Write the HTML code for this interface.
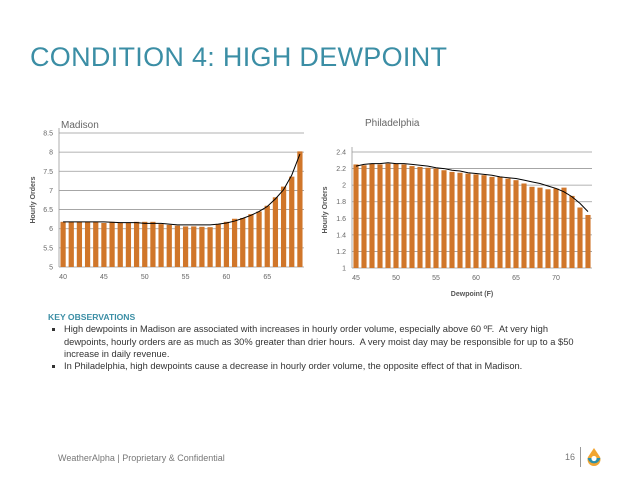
<!DOCTYPE html>
<html><head><meta charset="utf-8"><style>
body{margin:0;width:638px;height:479px;background:#fff;font-family:"Liberation Sans",sans-serif;position:relative;overflow:hidden}
#title{position:absolute;left:30px;top:42px;font-size:27px;color:#3b8ea5;letter-spacing:0.3px}
#obs{position:absolute;left:48px;top:311px;width:580px;font-size:9.3px;color:#333;line-height:12.3px}
#obs .h{color:#3b8ea5;font-weight:bold;font-size:8.6px}
#obs ul{margin:0;padding:0 0 0 16px;list-style:square}
#obs li{padding-left:0px;white-space:nowrap}
#foot{position:absolute;left:58px;top:453px;font-size:9px;color:#777}
#pg{position:absolute;left:565px;top:452px;font-size:9px;color:#777}
</style></head><body>
<div id="title">CONDITION 4: HIGH DEWPOINT</div>
<svg id="chart" width="638" height="479" style="position:absolute;left:0;top:0"></svg>
<div id="obs">
<div class="h">KEY OBSERVATIONS</div>
<ul>
<li>High dewpoints in Madison are associated with increases in hourly order volume, especially above 60 ºF.&nbsp; At very high<br>dewpoints, hourly orders are as much as 30% greater than drier hours.&nbsp; A very moist day may be responsible for up to a $50<br>increase in daily revenue.</li>
<li>In Philadelphia, high dewpoints cause a decrease in hourly order volume, the opposite effect of that in Madison.</li>
</ul></div>
<div id="foot">WeatherAlpha | Proprietary &amp; Confidential</div>
<div id="pg">16</div>
<div style="position:absolute;left:580px;top:447px;width:1px;height:20px;background:#999"></div>
<svg style="position:absolute;left:586px;top:448px" width="16" height="18"><path d="M8 0 L14 9 A6.5 6.5 0 1 1 2 9 Z" fill="#f2a531"/><path d="M1.6 10 A6.5 6.5 0 0 0 14.4 10 Z" fill="#2d8fa8"/><circle cx="8" cy="10.5" r="2.6" fill="#fff"/></svg>
<script>
const madCats=[40,41,42,43,44,45,46,47,48,49,50,51,52,53,54,55,56,57,58,59,60,61,62,63,64,65,66,67,68,69];
const madVals=[6.18,6.18,6.18,6.18,6.18,6.15,6.18,6.16,6.16,6.18,6.18,6.18,6.12,6.1,6.08,6.06,6.06,6.05,6.04,6.12,6.18,6.26,6.28,6.38,6.45,6.6,6.82,7.1,7.36,8.02];
const madTrend=[6.18,6.18,6.18,6.18,6.18,6.18,6.17,6.16,6.16,6.16,6.14,6.14,6.14,6.12,6.1,6.1,6.1,6.1,6.1,6.12,6.15,6.2,6.27,6.35,6.45,6.58,6.78,7.02,7.4,7.95];
const madTicks=[5,5.5,6,6.5,7,7.5,8,8.5];
const madXLabels=[40,45,50,55,60,65];
const phiCats=[45,46,47,48,49,50,51,52,53,54,55,56,57,58,59,60,61,62,63,64,65,66,67,68,69,70,71,72,73,74];
const phiVals=[2.25,2.24,2.26,2.25,2.26,2.26,2.25,2.23,2.22,2.21,2.2,2.18,2.16,2.15,2.14,2.13,2.12,2.1,2.1,2.08,2.06,2.02,1.98,1.97,1.95,1.96,1.97,1.87,1.73,1.64];
const phiTrend=[2.23,2.25,2.26,2.26,2.27,2.26,2.26,2.25,2.24,2.23,2.21,2.2,2.18,2.17,2.15,2.14,2.13,2.12,2.1,2.09,2.08,2.06,2.04,2.02,1.99,1.96,1.92,1.86,1.78,1.68];
const phiTicks=[1,1.2,1.4,1.6,1.8,2,2.2,2.4];
const phiXLabels=[45,50,55,60,65,70];
const NS="http://www.w3.org/2000/svg";
const svg=document.getElementById('chart');
function mk(t,a,txt){const e=document.createElementNS(NS,t);for(const k in a)e.setAttribute(k,a[k]);if(txt!==undefined)e.textContent=txt;svg.appendChild(e);return e;}
function draw(o){
  const n=o.cats.length,bw=(o.x1-o.x0)/n;
  const xs=i=>o.x0+bw*(i+0.5);
  const ys=v=>o.y1-(v-o.ymin)/(o.ymax-o.ymin)*(o.y1-o.y0);
  o.ticks.forEach(t=>{
    const g=mk('line',{x1:o.x0,x2:o.x1,y1:ys(t),y2:ys(t),stroke:'#999','stroke-width':0.8});
    
    const l=mk('text',{x:o.x0-6,y:ys(t)+2.5,'font-size':7,fill:'#666','text-anchor':'end'},String(t));
    
  });
  const ax=mk('line',{x1:o.x0,x2:o.x0,y1:o.y0-5,y2:o.y1,stroke:'#999','stroke-width':0.8});
  
  o.vals.forEach((v,i)=>{
    const b=mk('rect',{x:xs(i)-bw*0.32,y:ys(v),width:bw*0.64,height:o.y1-ys(v),fill:'#d0762a'});
    
  });
  o.xl.forEach(c=>{
    const i=o.cats.indexOf(c);
    const l=mk('text',{x:xs(i),y:o.y1+12,'font-size':7,fill:'#666','text-anchor':'middle'},String(c));
    
  });
  const p=mk('polyline',{points:o.trend.map((v,i)=>xs(i)+','+ys(v)).join(' '),fill:'none',stroke:'#000','stroke-width':1});
  
  const t=mk('text',{x:o.tx,y:o.ty,'font-size':10,fill:'#666'},o.title);
  
  const yt=mk('text',{transform:`translate(${o.ytx},${(o.y0+o.y1)/2}) rotate(-90)`,'font-size':7,fill:'#555','font-weight':'bold','text-anchor':'middle'},'Hourly Orders');
  
}
draw({cats:madCats,vals:madVals,trend:madTrend,ticks:madTicks,xl:madXLabels,x0:59,x1:304,y0:133,y1:267,ymin:5,ymax:8.5,title:'Madison',tx:61,ty:128,ytx:35});
draw({cats:phiCats,vals:phiVals,trend:phiTrend,ticks:phiTicks,xl:phiXLabels,x0:352,x1:592,y0:152,y1:268,ymin:1,ymax:2.4,title:'Philadelphia',tx:365,ty:126,ytx:327});
const xt=mk('text',{x:472,y:296,'font-size':7,fill:'#555','font-weight':'bold','text-anchor':'middle'},'Dewpoint (F)');

</script>
</body></html>
